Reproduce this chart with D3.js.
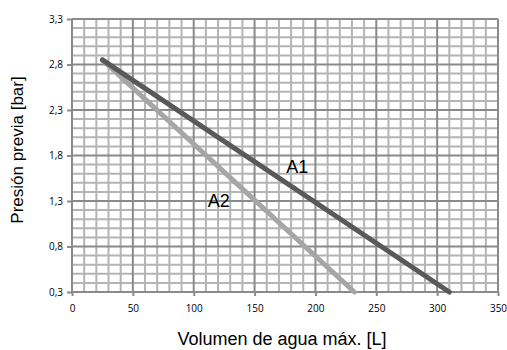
<!DOCTYPE html>
<html lang="es">
<head>
<meta charset="utf-8">
<script src="https://d3js.org/d3.v7.min.js"></script>
<style>
  body { margin: 0; background: #fff; }
  svg text { fill: #000; }
</style>
</head>
<body>
<script>
// datos
var serieNames = ['A1', 'A2'];
var volA1 = [25, 310];
var presA1 = [2.85, 0.3];
var volA2 = [25, 232];
var presA2 = [2.85, 0.3];
var xTicks = [0, 50, 100, 150, 200, 250, 300, 350];
var yTicks = [0.3, 0.8, 1.3, 1.8, 2.3, 2.8, 3.3];

var W = 507, H = 350;
var m = { left: 72, right: 9, top: 19, bottom: 58 };

var svg = d3.select('body').append('svg')
  .attr('width', W).attr('height', H);

var x = d3.scaleLinear().domain([0, 350]).range([m.left, W - m.right]);
var y = d3.scaleLinear().domain([0.3, 3.3]).range([H - m.bottom, m.top]);

var g = svg.append('g');

// rejilla menor
d3.range(0, 351, 10).forEach(function(v) {
  if (v % 50 == 0) return;
  g.append('line')
    .attr('x1', x(v)).attr('x2', x(v))
    .attr('y1', y(0.3)).attr('y2', y(3.3))
    .style('stroke', '#b4b4b4').style('stroke-width', 2);
});
d3.range(3, 34, 1).forEach(function(k) {
  if ((k - 3) % 5 == 0) return;
  var v = k / 10;
  g.append('line')
    .attr('x1', x(0)).attr('x2', x(350))
    .attr('y1', y(v)).attr('y2', y(v))
    .style('stroke', '#b4b4b4').style('stroke-width', 2);
});

// rejilla mayor
xTicks.forEach(function(v) {
  g.append('line')
    .attr('x1', x(v)).attr('x2', x(v))
    .attr('y1', y(0.3)).attr('y2', y(3.3) )
    .style('stroke', '#8a8a8a').style('stroke-width', 2);
});
yTicks.forEach(function(v) {
  g.append('line')
    .attr('x1', x(0)).attr('x2', x(350))
    .attr('y1', y(v)).attr('y2', y(v))
    .style('stroke', '#8a8a8a').style('stroke-width', 2);
});

// ejes
var fmt = function(d) { return d3.format('.1f')(d).replace('.', ','); };

var yAxis = svg.append('g')
  .attr('transform', 'translate(' + m.left + ',0)')
  .call(d3.axisLeft(y).tickValues(yTicks).tickFormat(fmt).tickSize(5).tickPadding(4));
var xAxis = svg.append('g')
  .attr('transform', 'translate(0,' + (H - m.bottom) + ')')
  .call(d3.axisBottom(x).tickValues(xTicks).tickSize(4).tickPadding(9));

[xAxis, yAxis].forEach(function(a) {
  a.select('.domain').remove();
  a.selectAll('line').style('stroke', '#8a8a8a').style('stroke-width', 2);
  a.selectAll('text')
    .style('font-family', '"Open Sans", sans-serif')
    .style('font-size', '10px')
    .style('fill', '#000');
});

// lineas de datos
var line = d3.line()
  .x(function(d) { return x(d[0]); })
  .y(function(d) { return y(d[1]); });

var datA1 = volA1.map(function(v, i) { return [v, presA1[i]]; });
var datA2 = volA2.map(function(v, i) { return [v, presA2[i]]; });

svg.append('path').datum(datA2)
  .attr('d', line)
  .style('fill', 'none').style('stroke', '#a6a6a6')
  .style('stroke-width', 5).style('stroke-linecap', 'round');
svg.append('path').datum(datA1)
  .attr('d', line)
  .style('fill', 'none').style('stroke', '#595959')
  .style('stroke-width', 5).style('stroke-linecap', 'round');

// etiquetas de serie
svg.append('text')
  .attr('x', x(176)).attr('y', y(1.61))
  .style('font-family', '"Liberation Sans", Arial, sans-serif')
  .style('font-size', '18px')
  .text(serieNames[0]);
svg.append('text')
  .attr('x', x(111.5)).attr('y', y(1.235))
  .style('font-family', '"Liberation Sans", Arial, sans-serif')
  .style('font-size', '18px')
  .text(serieNames[1]);

// titulos de ejes
svg.append('text')
  .attr('x', 282).attr('y', 345)
  .attr('text-anchor', 'middle')
  .style('font-family', '"Liberation Sans", Arial, sans-serif')
  .style('font-size', '18px')
  .text('Volumen de agua máx. [L]');
svg.append('text')
  .attr('transform', 'translate(23,150) rotate(-90)')
  .attr('text-anchor', 'middle')
  .style('font-family', '"Liberation Sans", Arial, sans-serif')
  .style('font-size', '17px')
  .text('Presión previa [bar]');
</script>
</body>
</html>
